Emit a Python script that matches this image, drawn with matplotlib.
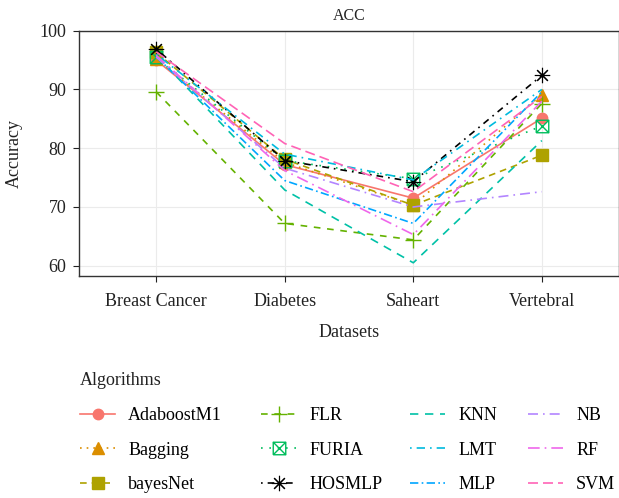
import matplotlib
matplotlib.use("Agg")
import matplotlib.pyplot as plt
from matplotlib.path import Path
import numpy as np

datasets = ['Breast Cancer', 'Diabetes', 'Saheart', 'Vertebral']
algorithms = ['AdaboostM1', 'Bagging', 'bayesNet', 'FLR', 'FURIA', 'HOSMLP',
              'KNN', 'LMT', 'MLP', 'NB', 'RF', 'SVM']

AdaboostM1 = [95.0, 77.2, 71.5, 85.1]
Bagging = [95.2, 77.6, 70.3, 89.1]
bayesNet = [96.3, 78.1, 70.3, 78.8]
FLR = [89.6, 67.2, 64.4, 87.6]
FURIA = [95.5, 77.9, 74.8, 83.8]
HOSMLP = [96.9, 77.9, 74.3, 92.4]
KNN = [95.8, 72.9, 60.5, 81.3]
LMT = [96.0, 79.0, 74.6, 90.0]
MLP = [95.6, 74.5, 67.2, 89.6]
NB = [95.5, 76.6, 70.0, 72.6]
RF = [95.8, 76.2, 65.3, 88.0]
SVM = [96.4, 80.8, 72.6, 88.8]

series = [AdaboostM1, Bagging, bayesNet, FLR, FURIA, HOSMLP,
          KNN, LMT, MLP, NB, RF, SVM]

colors = ['#F8766D', '#DB8E00', '#AEA200', '#64B200', '#00BD5C', '#000000',
          '#00C1A7', '#00BADE', '#00A6FF', '#B385FF', '#EF67EB', '#FF63B6']

boxx = Path([(-1, -1), (1, -1), (1, 1), (-1, 1), (-1, -1), (-1, -1), (1, 1), (-1, 1), (1, -1)],
            [Path.MOVETO, Path.LINETO, Path.LINETO, Path.LINETO, Path.LINETO,
             Path.MOVETO, Path.LINETO, Path.MOVETO, Path.LINETO])

styles = [
    dict(ls='-', marker='o', ms=7.5),
    dict(ls=(0, (1, 3)), marker='^', ms=8.5),
    dict(ls=(0, (4, 3)), marker='s', ms=8.5),
    dict(ls=(0, (4, 4)), marker='+', ms=11, mew=1.0),
    dict(ls=(0, (1, 4)), marker=boxx, ms=9, mfc='none', mew=1.0),
    dict(ls=(0, (1, 3, 4, 3)), marker=(8, 2, 0), ms=11, mew=0.8),
    dict(ls=(0, (5, 4)), marker=None),
    dict(ls=(0, (1, 3, 5, 3)), marker=None),
    dict(ls=(0, (5, 2, 1, 2)), marker=None),
    dict(ls=(0, (6, 3, 1, 3)), marker=None),
    dict(ls=(0, (7, 3, 1, 3)), marker=None),
    dict(ls=(0, (6, 3)), marker=None),
]

plt.rcParams['font.family'] = ['Liberation Serif', 'DejaVu Serif']

fig = plt.figure(figsize=(6.19, 4.98), dpi=100)
W, H = 619, 498
left, right, top, bottom = 79, 619, 30.7, 276
ax = fig.add_axes([left / W, 1 - bottom / H, (right - left) / W, (bottom - top) / H])

x = np.arange(len(datasets))
handles = []
for name, vals, c, st in zip(algorithms, series, colors, styles):
    kw = dict(st)
    ls = kw.pop('ls')
    h, = ax.plot(x, vals, color=c, linestyle=ls, lw=1.2, label=name,
                 markeredgecolor=c, **kw)
    handles.append(h)

ax.set_xlim(-0.6, len(datasets) - 1 + 0.6)
ax.set_ylim(58.25, 100)
ax.set_xticks(x)
ax.set_xticklabels(datasets, fontsize=13, color='#222222')
ax.set_yticks([60, 70, 80, 90, 100])
ax.tick_params(axis='y', labelsize=13, colors='#222222', length=4, width=0.8, pad=5)
ax.tick_params(axis='x', length=4, width=0.8, colors='#222222', pad=8)
ax.grid(True, color='#EBEBEB', lw=0.8)
ax.set_axisbelow(True)
for s in ax.spines.values():
    s.set_color('#333333')
    s.set_linewidth(1.0)

ax.set_xlabel('Datasets', fontsize=13, color='#222222', labelpad=10)
ax.set_ylabel('Accuracy', fontsize=13, color='#222222', labelpad=12)
ax.set_title('ACC', fontsize=11.5, color='#222222', pad=8)

# legend: title + four columns of three entries
fig.text(80 / W, 1 - 380 / H, 'Algorithms', fontsize=13, color='#222222',
         ha='left', va='center')
col_x = [80, 261, 410, 528]
for i, cx in enumerate(col_x):
    hs = handles[3 * i:3 * i + 3]
    leg = fig.legend(handles=hs, labels=algorithms[3 * i:3 * i + 3], loc='upper left',
                     bbox_to_anchor=(cx / W, 1 - 407 / H), ncol=1,
                     frameon=False, fontsize=13,
                     borderpad=0, borderaxespad=0, handlelength=1.95, handletextpad=0.72,
                     labelspacing=0.98)

fig.savefig('out.png', dpi=100)
